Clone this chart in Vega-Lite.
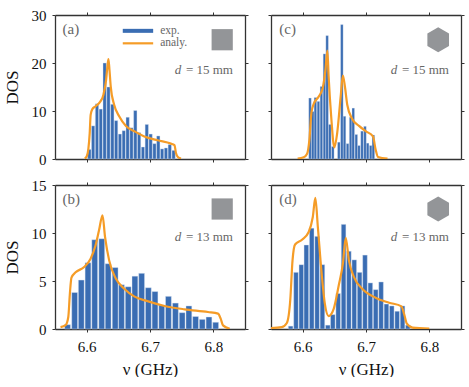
{
"$schema":"https://vega.github.io/schema/vega-lite/v6.json",
"padding":{"left":3,"top":8,"right":0,"bottom":0},
"columns":2,"spacing":{"column":26,"row":26},"bounds":"flush",
"config":{"view":{"stroke":null},
"axis":{"grid":false,"domain":true,"domainColor":"#333333","domainWidth":1.3,"ticks":true,"tickColor":"#333333","tickSize":3,"tickWidth":1,"labelFont":"Liberation Serif","labelFontSize":15,"labelColor":"#111111","titleFont":"Liberation Serif","titleFontSize":17,"titleFontWeight":"normal","titleColor":"#111111"},
"text":{"font":"Liberation Serif","color":"#666666"}},
"datasets":{
"ba":[{"nu":6.6042,"dos":2},{"nu":6.6102,"dos":6.9},{"nu":6.6163,"dos":11.5},{"nu":6.6223,"dos":10.4},{"nu":6.6284,"dos":20},{"nu":6.6344,"dos":15},{"nu":6.6405,"dos":11.4},{"nu":6.6465,"dos":8},{"nu":6.6526,"dos":5.2},{"nu":6.6586,"dos":5.9},{"nu":6.6647,"dos":8.7},{"nu":6.6707,"dos":6.5},{"nu":6.6768,"dos":10.1},{"nu":6.6828,"dos":5.5},{"nu":6.6889,"dos":2.5},{"nu":6.6949,"dos":7.2},{"nu":6.701,"dos":5.2},{"nu":6.707,"dos":3.2},{"nu":6.7131,"dos":4.8},{"nu":6.7191,"dos":2.1},{"nu":6.7252,"dos":2.3},{"nu":6.7312,"dos":3},{"nu":6.7373,"dos":1.8}],
"la":[{"nu":6.597,"dos":0.1},{"nu":6.6,"dos":0.5},{"nu":6.6026,"dos":2},{"nu":6.6048,"dos":5.4},{"nu":6.6063,"dos":9.2},{"nu":6.609,"dos":10.4},{"nu":6.6143,"dos":11},{"nu":6.6206,"dos":11.8},{"nu":6.6265,"dos":13.4},{"nu":6.6307,"dos":16.5},{"nu":6.6328,"dos":19.3},{"nu":6.6344,"dos":20.8},{"nu":6.636,"dos":18.6},{"nu":6.638,"dos":15.1},{"nu":6.6434,"dos":11.3},{"nu":6.6513,"dos":8.9},{"nu":6.662,"dos":6.9},{"nu":6.675,"dos":5.8},{"nu":6.691,"dos":4.7},{"nu":6.712,"dos":3.9},{"nu":6.733,"dos":3.2},{"nu":6.7386,"dos":2.9},{"nu":6.741,"dos":1.25},{"nu":6.744,"dos":0.4},{"nu":6.749,"dos":0.07}],
"bc":[{"nu":6.6116,"dos":12.7},{"nu":6.6159,"dos":9.9},{"nu":6.6201,"dos":12.8},{"nu":6.6249,"dos":12},{"nu":6.6296,"dos":15.1},{"nu":6.6344,"dos":21.9},{"nu":6.6386,"dos":25.7},{"nu":6.6429,"dos":7.2},{"nu":6.6476,"dos":2.6},{"nu":6.6571,"dos":3.5},{"nu":6.6619,"dos":28},{"nu":6.6661,"dos":8.9},{"nu":6.6709,"dos":3.2},{"nu":6.6757,"dos":8.7},{"nu":6.6799,"dos":10.6},{"nu":6.6847,"dos":5.1},{"nu":6.6889,"dos":2.8},{"nu":6.6937,"dos":5.8},{"nu":6.6984,"dos":6.8},{"nu":6.7026,"dos":3.3},{"nu":6.7074,"dos":2.8},{"nu":6.7116,"dos":5}],
"lc":[{"nu":6.592,"dos":0.1},{"nu":6.6016,"dos":0.35},{"nu":6.607,"dos":1.1},{"nu":6.6106,"dos":4},{"nu":6.6138,"dos":9.6},{"nu":6.6175,"dos":11.5},{"nu":6.6254,"dos":13},{"nu":6.6317,"dos":14.8},{"nu":6.636,"dos":18.6},{"nu":6.639,"dos":22.6},{"nu":6.641,"dos":17.2},{"nu":6.645,"dos":8.9},{"nu":6.65,"dos":2.4},{"nu":6.6545,"dos":5.4},{"nu":6.66,"dos":13},{"nu":6.6635,"dos":17.4},{"nu":6.6667,"dos":15.1},{"nu":6.6704,"dos":11.3},{"nu":6.678,"dos":8.4},{"nu":6.689,"dos":6.9},{"nu":6.6995,"dos":5.8},{"nu":6.711,"dos":4.7},{"nu":6.7153,"dos":1.9},{"nu":6.719,"dos":0.4},{"nu":6.734,"dos":0.07}],
"bb":[{"nu":6.5698,"dos":0.45},{"nu":6.581,"dos":3.8},{"nu":6.5915,"dos":5.1},{"nu":6.6021,"dos":6.9},{"nu":6.6127,"dos":9.3},{"nu":6.6238,"dos":9.4},{"nu":6.6339,"dos":6.8},{"nu":6.645,"dos":6.4},{"nu":6.655,"dos":4.6},{"nu":6.6656,"dos":4.4},{"nu":6.6762,"dos":5.5},{"nu":6.6868,"dos":5.8},{"nu":6.6974,"dos":4.3},{"nu":6.7079,"dos":3.9},{"nu":6.7185,"dos":2.5},{"nu":6.7291,"dos":3.4},{"nu":6.7402,"dos":2.7},{"nu":6.7508,"dos":1.7},{"nu":6.7614,"dos":2.4},{"nu":6.772,"dos":1.3},{"nu":6.7825,"dos":1},{"nu":6.7931,"dos":1.25},{"nu":6.8037,"dos":0.7}],
"lb":[{"nu":6.5587,"dos":0.2},{"nu":6.5667,"dos":0.4},{"nu":6.571,"dos":1.25},{"nu":6.5735,"dos":3.7},{"nu":6.576,"dos":5.35},{"nu":6.5825,"dos":5.9},{"nu":6.596,"dos":6.45},{"nu":6.606,"dos":7.3},{"nu":6.614,"dos":8.7},{"nu":6.6196,"dos":10.3},{"nu":6.625,"dos":11.85},{"nu":6.629,"dos":9.6},{"nu":6.6355,"dos":7.15},{"nu":6.646,"dos":5.25},{"nu":6.6593,"dos":4.2},{"nu":6.675,"dos":3.4},{"nu":6.696,"dos":2.9},{"nu":6.723,"dos":2.4},{"nu":6.7545,"dos":2.05},{"nu":6.7915,"dos":1.77},{"nu":6.8074,"dos":1.6},{"nu":6.8116,"dos":1.08},{"nu":6.8153,"dos":0.38},{"nu":6.826,"dos":0.03}],
"bd":[{"nu":6.581,"dos":0.3},{"nu":6.5895,"dos":5.9},{"nu":6.5979,"dos":6.7},{"nu":6.6058,"dos":8.75},{"nu":6.6143,"dos":10.5},{"nu":6.6228,"dos":9.65},{"nu":6.6312,"dos":6.7},{"nu":6.6397,"dos":0.4},{"nu":6.6476,"dos":1.5},{"nu":6.6561,"dos":3.7},{"nu":6.6646,"dos":10.9},{"nu":6.673,"dos":8.1},{"nu":6.6815,"dos":7.2},{"nu":6.6899,"dos":5.9},{"nu":6.6984,"dos":7.7},{"nu":6.7069,"dos":4.8},{"nu":6.7153,"dos":4.1},{"nu":6.7238,"dos":4.9},{"nu":6.7323,"dos":2.6},{"nu":6.7407,"dos":2.4},{"nu":6.7492,"dos":1.85},{"nu":6.7577,"dos":2.4},{"nu":6.7661,"dos":0.4}],
"ld":[{"nu":6.5497,"dos":0.1},{"nu":6.567,"dos":0.2},{"nu":6.575,"dos":0.63},{"nu":6.5804,"dos":3},{"nu":6.584,"dos":7.15},{"nu":6.588,"dos":8.8},{"nu":6.599,"dos":9.3},{"nu":6.6095,"dos":10.1},{"nu":6.616,"dos":11.67},{"nu":6.62,"dos":13.65},{"nu":6.624,"dos":10.6},{"nu":6.63,"dos":5.76},{"nu":6.635,"dos":2.64},{"nu":6.641,"dos":1.35},{"nu":6.649,"dos":2.1},{"nu":6.657,"dos":4.55},{"nu":6.6635,"dos":6.8},{"nu":6.668,"dos":9.5},{"nu":6.673,"dos":7.15},{"nu":6.681,"dos":5.4},{"nu":6.694,"dos":4.2},{"nu":6.715,"dos":3.26},{"nu":6.7365,"dos":2.74},{"nu":6.756,"dos":2.36},{"nu":6.76,"dos":1.6},{"nu":6.7645,"dos":0.55},{"nu":6.7735,"dos":0.14},{"nu":6.8,"dos":0.03}]
},
"concat":[
{"width":190,"height":144,"resolve":{"axis":{"x":"independent","y":"independent"}},"layer":[
{"data":{"name":"ba"},"mark":{"type":"bar","size":3.3,"color":"#3a6db3","stroke":"#dbe5f3","strokeWidth":0.4},
"encoding":{"x":{"field":"nu","type":"quantitative","scale":{"domain":[6.55,6.85],"padding":0},"axis":{"values":[6.6,6.7,6.8],"labels":false,"title":null}},"y":{"field":"dos","type":"quantitative","scale":{"domain":[0,30]},"axis":{"values":[0,10,20,30],"title":"DOS","titlePadding":10,"labelPadding":6,"format":"d"}}}},
{"data":{"name":"la"},"mark":{"type":"line","color":"#f59c27","strokeWidth":2.2,"interpolate":"monotone","clip":true},
"encoding":{"x":{"field":"nu","type":"quantitative","scale":{"domain":[6.55,6.85]},"axis":{"orient":"top","values":[6.6,6.7,6.8],"labels":false,"title":null}},"y":{"field":"dos","type":"quantitative","scale":{"domain":[0,30]},"axis":{"orient":"right","values":[0,10,20,30],"labels":false,"title":null}}}},
{"data":{"values":[{"t":"(a)"}]},"mark":{"type":"text","align":"left","baseline":"middle","fontSize":15},"encoding":{"x":{"datum":6.562,"scale":{"domain":[6.55,6.85]},"axis":null},"y":{"datum":27.1,"scale":{"domain":[0,30]},"axis":null},"text":{"field":"t"}}},
{"data":{"values":[{"t":"exp."}]},"mark":{"type":"text","align":"left","baseline":"middle","fontSize":11.5},"encoding":{"x":{"datum":6.716,"scale":{"domain":[6.55,6.85]},"axis":null},"y":{"datum":26.7,"scale":{"domain":[0,30]},"axis":null},"text":{"field":"t"}}},
{"data":{"values":[{"t":"analy."}]},"mark":{"type":"text","align":"left","baseline":"middle","fontSize":11.5},"encoding":{"x":{"datum":6.716,"scale":{"domain":[6.55,6.85]},"axis":null},"y":{"datum":24.1,"scale":{"domain":[0,30]},"axis":null},"text":{"field":"t"}}},
{"data":{"values":[{"k":"exp."}]},"mark":{"type":"rule","color":"#3a6db3","strokeWidth":4},"encoding":{"x":{"datum":6.657,"scale":{"domain":[6.55,6.85]},"axis":null},"x2":{"datum":6.705},"y":{"datum":26.7,"scale":{"domain":[0,30]},"axis":null}}},
{"data":{"values":[{"k":"analy."}]},"mark":{"type":"rule","color":"#f59c27","strokeWidth":2.2},"encoding":{"x":{"datum":6.657,"scale":{"domain":[6.55,6.85]},"axis":null},"x2":{"datum":6.705},"y":{"datum":24.1,"scale":{"domain":[0,30]},"axis":null}}},
{"data":{"values":[{"s":"square"}]},"mark":{"type":"point","shape":"square","filled":true,"color":"#939598","opacity":1,"size":450},"encoding":{"x":{"datum":6.814,"scale":{"domain":[6.55,6.85]},"axis":null},"y":{"datum":24.85,"scale":{"domain":[0,30]},"axis":null}}},
{"data":{"values":[{"t":"=\u00a015\u00a0mm"}]},"mark":{"type":"text","align":"right","baseline":"middle","fontSize":13},"encoding":{"x":{"datum":6.831,"scale":{"domain":[6.55,6.85]},"axis":null},"y":{"datum":18.5,"scale":{"domain":[0,30]},"axis":null},"text":{"field":"t"}}},
{"data":{"values":[{"t":"d"}]},"mark":{"type":"text","align":"right","baseline":"middle","fontSize":13,"fontStyle":"italic"},"encoding":{"x":{"datum":6.7495,"scale":{"domain":[6.55,6.85]},"axis":null},"y":{"datum":18.5,"scale":{"domain":[0,30]},"axis":null},"text":{"field":"t"}}}
]},
{"width":190,"height":144,"resolve":{"axis":{"x":"independent","y":"independent"}},"layer":[
{"data":{"name":"bc"},"mark":{"type":"bar","size":2.5,"color":"#3a6db3","stroke":"#dbe5f3","strokeWidth":0.3},
"encoding":{"x":{"field":"nu","type":"quantitative","scale":{"domain":[6.55,6.85],"padding":0},"axis":{"values":[6.6,6.7,6.8],"labels":false,"title":null}},"y":{"field":"dos","type":"quantitative","scale":{"domain":[0,30]},"axis":{"values":[0,10,20,30],"labels":false,"title":null}}}},
{"data":{"name":"lc"},"mark":{"type":"line","color":"#f59c27","strokeWidth":2.2,"interpolate":"monotone","clip":true},
"encoding":{"x":{"field":"nu","type":"quantitative","scale":{"domain":[6.55,6.85]},"axis":{"orient":"top","values":[6.6,6.7,6.8],"labels":false,"title":null}},"y":{"field":"dos","type":"quantitative","scale":{"domain":[0,30]},"axis":{"orient":"right","values":[0,10,20,30],"labels":false,"title":null}}}},
{"data":{"values":[{"t":"(c)"}]},"mark":{"type":"text","align":"left","baseline":"middle","fontSize":15},"encoding":{"x":{"datum":6.563,"scale":{"domain":[6.55,6.85]},"axis":null},"y":{"datum":27.1,"scale":{"domain":[0,30]},"axis":null},"text":{"field":"t"}}},
{"data":{"values":[{"s":"hexagon"}]},"mark":{"type":"point","shape":"M0,-1L0.866,-0.5L0.866,0.5L0,1L-0.866,0.5L-0.866,-0.5Z","filled":true,"color":"#939598","opacity":1,"size":625},"encoding":{"x":{"datum":6.814,"scale":{"domain":[6.55,6.85]},"axis":null},"y":{"datum":24.85,"scale":{"domain":[0,30]},"axis":null}}},
{"data":{"values":[{"t":"=\u00a015\u00a0mm"}]},"mark":{"type":"text","align":"right","baseline":"middle","fontSize":13},"encoding":{"x":{"datum":6.831,"scale":{"domain":[6.55,6.85]},"axis":null},"y":{"datum":18.5,"scale":{"domain":[0,30]},"axis":null},"text":{"field":"t"}}},
{"data":{"values":[{"t":"d"}]},"mark":{"type":"text","align":"right","baseline":"middle","fontSize":13,"fontStyle":"italic"},"encoding":{"x":{"datum":6.7495,"scale":{"domain":[6.55,6.85]},"axis":null},"y":{"datum":18.5,"scale":{"domain":[0,30]},"axis":null},"text":{"field":"t"}}}
]},
{"width":190,"height":144,"resolve":{"axis":{"x":"independent","y":"independent"}},"layer":[
{"data":{"name":"bb"},"mark":{"type":"bar","size":5.8,"color":"#3a6db3","stroke":"#dbe5f3","strokeWidth":0.4},
"encoding":{"x":{"field":"nu","type":"quantitative","scale":{"domain":[6.55,6.85],"padding":0},"axis":{"values":[6.6,6.7,6.8],"format":".1f","labelPadding":7,"title":"ν (GHz)","titlePadding":7}},"y":{"field":"dos","type":"quantitative","scale":{"domain":[0,15]},"axis":{"values":[0,5,10,15],"title":"DOS","titlePadding":10,"labelPadding":6,"format":"d"}}}},
{"data":{"name":"lb"},"mark":{"type":"line","color":"#f59c27","strokeWidth":2.2,"interpolate":"monotone","clip":true},
"encoding":{"x":{"field":"nu","type":"quantitative","scale":{"domain":[6.55,6.85]},"axis":{"orient":"top","values":[6.6,6.7,6.8],"labels":false,"title":null}},"y":{"field":"dos","type":"quantitative","scale":{"domain":[0,15]},"axis":{"orient":"right","values":[0,5,10,15],"labels":false,"title":null}}}},
{"data":{"values":[{"t":"(b)"}]},"mark":{"type":"text","align":"left","baseline":"middle","fontSize":15},"encoding":{"x":{"datum":6.562,"scale":{"domain":[6.55,6.85]},"axis":null},"y":{"datum":13.54,"scale":{"domain":[0,15]},"axis":null},"text":{"field":"t"}}},
{"data":{"values":[{"s":"square"}]},"mark":{"type":"point","shape":"square","filled":true,"color":"#939598","opacity":1,"size":450},"encoding":{"x":{"datum":6.814,"scale":{"domain":[6.55,6.85]},"axis":null},"y":{"datum":12.5,"scale":{"domain":[0,15]},"axis":null}}},
{"data":{"values":[{"t":"=\u00a013\u00a0mm"}]},"mark":{"type":"text","align":"right","baseline":"middle","fontSize":13},"encoding":{"x":{"datum":6.831,"scale":{"domain":[6.55,6.85]},"axis":null},"y":{"datum":9.6,"scale":{"domain":[0,15]},"axis":null},"text":{"field":"t"}}},
{"data":{"values":[{"t":"d"}]},"mark":{"type":"text","align":"right","baseline":"middle","fontSize":13,"fontStyle":"italic"},"encoding":{"x":{"datum":6.7495,"scale":{"domain":[6.55,6.85]},"axis":null},"y":{"datum":9.6,"scale":{"domain":[0,15]},"axis":null},"text":{"field":"t"}}}
]},
{"width":190,"height":144,"resolve":{"axis":{"x":"independent","y":"independent"}},"layer":[
{"data":{"name":"bd"},"mark":{"type":"bar","size":4.6,"color":"#3a6db3","stroke":"#dbe5f3","strokeWidth":0.4},
"encoding":{"x":{"field":"nu","type":"quantitative","scale":{"domain":[6.55,6.85],"padding":0},"axis":{"values":[6.6,6.7,6.8],"format":".1f","labelPadding":7,"title":"ν (GHz)","titlePadding":7}},"y":{"field":"dos","type":"quantitative","scale":{"domain":[0,15]},"axis":{"values":[0,5,10,15],"labels":false,"title":null}}}},
{"data":{"name":"ld"},"mark":{"type":"line","color":"#f59c27","strokeWidth":2.2,"interpolate":"monotone","clip":true},
"encoding":{"x":{"field":"nu","type":"quantitative","scale":{"domain":[6.55,6.85]},"axis":{"orient":"top","values":[6.6,6.7,6.8],"labels":false,"title":null}},"y":{"field":"dos","type":"quantitative","scale":{"domain":[0,15]},"axis":{"orient":"right","values":[0,5,10,15],"labels":false,"title":null}}}},
{"data":{"values":[{"t":"(d)"}]},"mark":{"type":"text","align":"left","baseline":"middle","fontSize":15},"encoding":{"x":{"datum":6.563,"scale":{"domain":[6.55,6.85]},"axis":null},"y":{"datum":13.54,"scale":{"domain":[0,15]},"axis":null},"text":{"field":"t"}}},
{"data":{"values":[{"s":"hexagon"}]},"mark":{"type":"point","shape":"M0,-1L0.866,-0.5L0.866,0.5L0,1L-0.866,0.5L-0.866,-0.5Z","filled":true,"color":"#939598","opacity":1,"size":625},"encoding":{"x":{"datum":6.814,"scale":{"domain":[6.55,6.85]},"axis":null},"y":{"datum":12.5,"scale":{"domain":[0,15]},"axis":null}}},
{"data":{"values":[{"t":"=\u00a013\u00a0mm"}]},"mark":{"type":"text","align":"right","baseline":"middle","fontSize":13},"encoding":{"x":{"datum":6.831,"scale":{"domain":[6.55,6.85]},"axis":null},"y":{"datum":9.6,"scale":{"domain":[0,15]},"axis":null},"text":{"field":"t"}}},
{"data":{"values":[{"t":"d"}]},"mark":{"type":"text","align":"right","baseline":"middle","fontSize":13,"fontStyle":"italic"},"encoding":{"x":{"datum":6.7495,"scale":{"domain":[6.55,6.85]},"axis":null},"y":{"datum":9.6,"scale":{"domain":[0,15]},"axis":null},"text":{"field":"t"}}}
]}
]
}
